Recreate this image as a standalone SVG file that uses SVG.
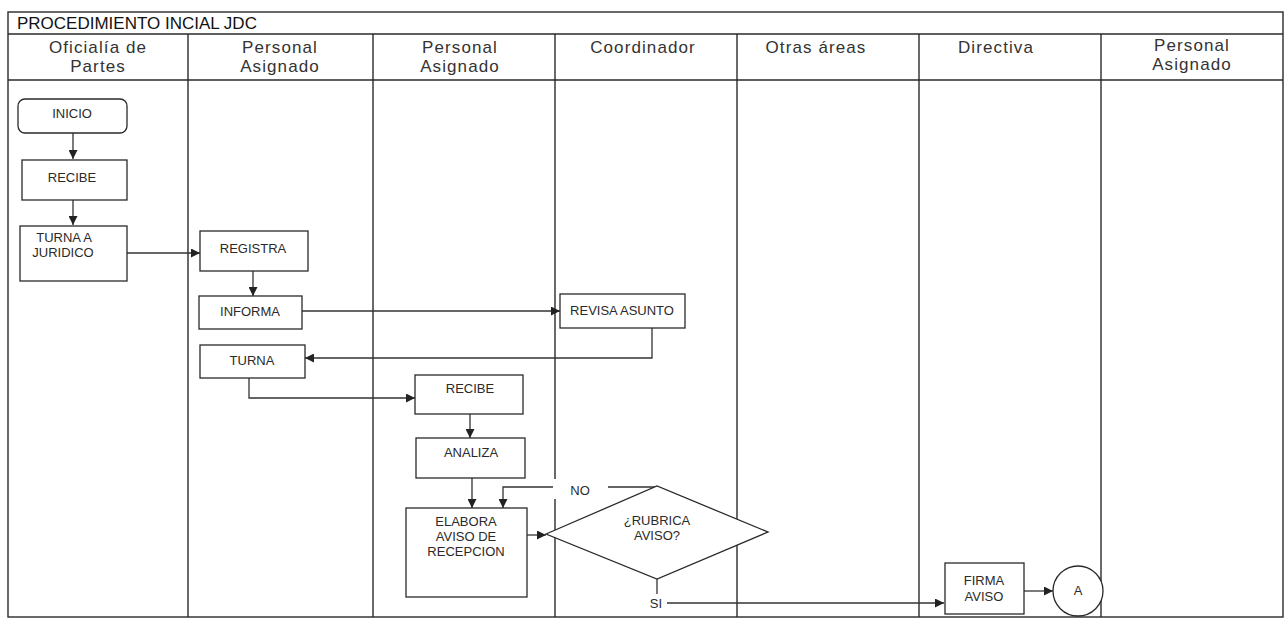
<svg xmlns="http://www.w3.org/2000/svg" width="1286" height="620" viewBox="0 0 1286 620">
<defs>
<style>
.frame{fill:none;stroke:#2a2a2a;stroke-width:1.4}
.box{fill:#fff;stroke:#2a2a2a;stroke-width:1.3}
.conn{fill:none;stroke:#333;stroke-width:1.3}
.t{font-family:"Liberation Sans",Arial,sans-serif;font-size:13px;fill:#2a2a2a;text-anchor:middle}
.h{font-family:"Liberation Sans",Arial,sans-serif;font-size:17px;fill:#333;text-anchor:middle;letter-spacing:1.1px}
.title{font-family:"Liberation Sans",Arial,sans-serif;font-size:17px;fill:#111}
</style>
<marker id="ah" viewBox="0 0 10 10" refX="10" refY="5" markerWidth="9" markerHeight="9" markerUnits="userSpaceOnUse" orient="auto">
<path d="M0,0 L10,5 L0,10 z" fill="#222"/>
</marker>
</defs>
<rect width="1286" height="620" fill="#fff"/>
<g id="lanes">
<rect class="frame" x="8" y="12" width="1275" height="605"/>
<line class="frame" x1="8" y1="34" x2="1283" y2="34"/>
<line class="frame" x1="8" y1="80" x2="1283" y2="80"/>
<line class="frame" x1="188" y1="34" x2="188" y2="617"/>
<line class="frame" x1="373" y1="34" x2="373" y2="617"/>
<line class="frame" x1="555" y1="34" x2="555" y2="617"/>
<line class="frame" x1="737" y1="34" x2="737" y2="617"/>
<line class="frame" x1="919" y1="34" x2="919" y2="617"/>
<line class="frame" x1="1101" y1="34" x2="1101" y2="617"/>
<text class="title" x="17" y="29">PROCEDIMIENTO INCIAL JDC</text>
<text class="h" x="98" y="53">Oficialía de</text>
<text class="h" x="98" y="72">Partes</text>
<text class="h" x="280" y="53">Personal</text>
<text class="h" x="280" y="72">Asignado</text>
<text class="h" x="460" y="53">Personal</text>
<text class="h" x="460" y="72">Asignado</text>
<text class="h" x="643" y="53">Coordinador</text>
<text class="h" x="816" y="53">Otras áreas</text>
<text class="h" x="996" y="53">Directiva</text>
<text class="h" x="1192" y="51">Personal</text>
<text class="h" x="1192" y="70">Asignado</text>
</g>
<g id="connectors">
<line class="conn" x1="73" y1="133" x2="73" y2="159" marker-end="url(#ah)"/>
<line class="conn" x1="73" y1="200" x2="73" y2="225" marker-end="url(#ah)"/>
<line class="conn" x1="127" y1="253" x2="200" y2="253" marker-end="url(#ah)"/>
<line class="conn" x1="253" y1="271" x2="253" y2="296" marker-end="url(#ah)"/>
<line class="conn" x1="302" y1="311" x2="560" y2="311" marker-end="url(#ah)"/>
<polyline class="conn" points="652,328 652,358 305,358" marker-end="url(#ah)"/>
<polyline class="conn" points="249,378 249,398 415,398" marker-end="url(#ah)"/>
<line class="conn" x1="470" y1="414" x2="470" y2="438" marker-end="url(#ah)"/>
<line class="conn" x1="472" y1="478" x2="472" y2="508" marker-end="url(#ah)"/>
<line class="conn" x1="527" y1="535" x2="546" y2="535" marker-end="url(#ah)"/>
<polyline class="conn" points="657,487 503,487 503,508" marker-end="url(#ah)"/>
<line class="conn" x1="657" y1="579" x2="657" y2="594"/>
<line class="conn" x1="667" y1="603" x2="944" y2="603" marker-end="url(#ah)"/>
<line class="conn" x1="1024" y1="591" x2="1053" y2="591" marker-end="url(#ah)"/>
<rect x="553" y="479" width="55" height="20" fill="#fff"/>
<text class="t" x="580" y="495">NO</text>
<text class="t" x="656" y="608">SI</text>
</g>
<g id="inicio">
<rect class="box" x="18" y="99" width="109" height="34" rx="7"/>
<text class="t" x="72" y="118">INICIO</text>
</g>
<g id="recibe1">
<rect class="box" x="22" y="160" width="105" height="40"/>
<text class="t" x="72" y="182">RECIBE</text>
</g>
<g id="turna-juridico">
<rect class="box" x="20" y="226" width="107" height="55"/>
<text class="t" x="64" y="242">TURNA A</text>
<text class="t" x="63" y="257">JURIDICO</text>
</g>
<g id="registra">
<rect class="box" x="200" y="231" width="108" height="40"/>
<text class="t" x="253" y="253">REGISTRA</text>
</g>
<g id="informa">
<rect class="box" x="199" y="296" width="103" height="33"/>
<text class="t" x="250" y="316">INFORMA</text>
</g>
<g id="revisa-asunto">
<rect class="box" x="560" y="294" width="125" height="34"/>
<text class="t" x="622" y="315">REVISA ASUNTO</text>
</g>
<g id="turna">
<rect class="box" x="200" y="345" width="105" height="33"/>
<text class="t" x="252" y="365">TURNA</text>
</g>
<g id="recibe2">
<rect class="box" x="415" y="375" width="108" height="39"/>
<text class="t" x="470" y="393">RECIBE</text>
</g>
<g id="analiza">
<rect class="box" x="416" y="438" width="109" height="40"/>
<text class="t" x="471" y="457">ANALIZA</text>
</g>
<g id="elabora">
<rect class="box" x="406" y="508" width="121" height="89"/>
<text class="t" x="466" y="526">ELABORA</text>
<text class="t" x="466" y="541">AVISO DE</text>
<text class="t" x="466" y="556">RECEPCION</text>
</g>
<g id="rubrica">
<polygon class="box" points="546,534 657,486 768,532 657,579"/>
<text class="t" x="657" y="525">¿RUBRICA</text>
<text class="t" x="657" y="540">AVISO?</text>
</g>
<g id="firma-aviso">
<rect class="box" x="945" y="563" width="79" height="51"/>
<text class="t" x="984" y="585">FIRMA</text>
<text class="t" x="984" y="601">AVISO</text>
</g>
<g id="conector-a">
<circle class="box" cx="1078" cy="591" r="25"/>
<text class="t" x="1078" y="595">A</text>
</g>
</svg>
